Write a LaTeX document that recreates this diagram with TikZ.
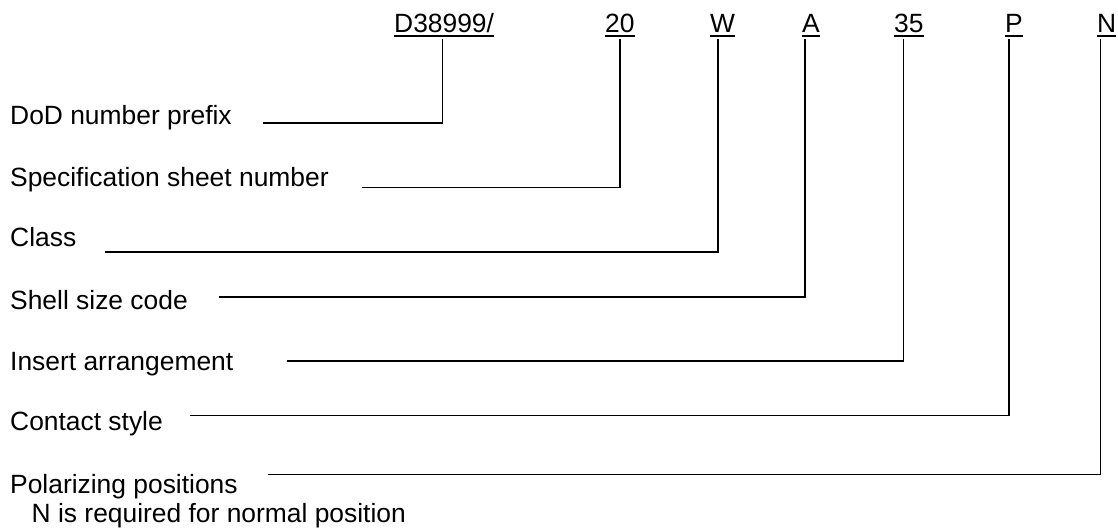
\documentclass[tikz,border=0pt]{standalone}
\usepackage{fontspec}
\setmainfont{Liberation Sans}
\begin{document}
\begin{tikzpicture}[x=1pt,y=-1pt,
  lbl/.style={inner sep=0pt,anchor=base west,font=\fontsize{26.4}{31}\selectfont},
  conn/.style={line width=1.5pt,black},
  uline/.style={line width=1.8pt,black}]
\useasboundingbox (0,0) rectangle (1118,529);
% top code parts
\node[lbl] (cD) at (394,33) {D38999/};
\node[lbl] (cS) at (605,33) {20};
\node[lbl] (cW) at (710,33) {W};
\node[lbl] (cA) at (802,33) {A};
\node[lbl] (cI) at (894,33) {35};
\node[lbl] (cP) at (1005,33) {P};
\node[lbl] (cN) at (1097,33) {N};
\foreach \n in {cD,cS,cW,cA,cI,cP,cN}
  \draw[uline] ([yshift=-3pt]\n.base west) -- ([yshift=-3pt]\n.base east);
% left labels
\node[lbl] (lD) at (10,125) {DoD number prefix};
\node[lbl] (lS) at (10,187) {Specification sheet number};
\node[lbl] (lW) at (10,247) {Class};
\node[lbl] (lA) at (10,309) {Shell size code};
\node[lbl] (lI) at (10,370) {Insert arrangement};
\node[lbl] (lP) at (10,430) {Contact style};
\node[lbl] (lN) at (10,493) {Polarizing positions};
\node[lbl] (lN2) at (31.5,522) {N is required for normal position};
% tick tops
\coordinate (tD) at (442.5,39);
\coordinate (tS) at (620,39);
\coordinate (tW) at (718,39);
\coordinate (tA) at (805,39);
\coordinate (tI) at (903.5,39);
\coordinate (tP) at (1009,39);
\coordinate (tN) at (1100.5,39);
% line starts
\coordinate (sD) at (263,123);
\coordinate (sS) at (362,187.5);
\coordinate (sW) at (105,252);
\coordinate (sA) at (219,297);
\coordinate (sI) at (287,361);
\coordinate (sP) at (190,415.5);
\coordinate (sN) at (268,474.5);
\draw[conn] (tD) |- (sD);
\draw[conn] (tS) |- (sS);
\draw[conn] (tW) |- (sW);
\draw[conn] (tA) |- (sA);
\draw[conn] (tI) |- (sI);
\draw[conn] (tP) |- (sP);
\draw[conn] (tN) |- (sN);
\end{tikzpicture}
\end{document}
